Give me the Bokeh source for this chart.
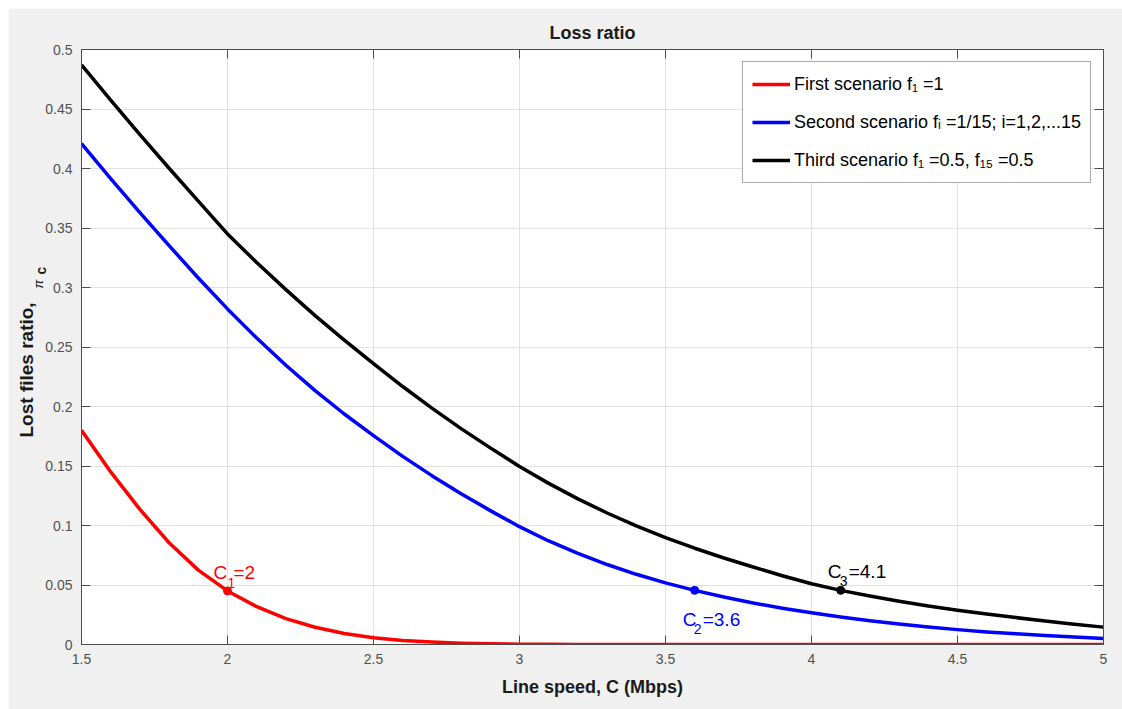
import numpy as np
from bokeh.plotting import figure
from bokeh.models import (Range1d, FixedTicker, LinearAxis, Legend, LegendItem,
                          Title, ColumnDataSource)
from bokeh.embed import file_html
from bokeh.resources import INLINE
from bokeh.core.properties import value

# ---------------- data ----------------
C = [1.5, 1.6, 1.7, 1.8, 1.9, 2.0, 2.1, 2.2, 2.3, 2.4, 2.5, 2.6, 2.7, 2.8, 2.9,
     3.0, 3.1, 3.2, 3.3, 3.4, 3.5, 3.6, 3.7, 3.8, 3.9, 4.0, 4.1, 4.2, 4.3, 4.4,
     4.5, 4.6, 4.7, 4.8, 4.9, 5.0]
first = [0.180, 0.145, 0.1135, 0.0855, 0.0625, 0.0450, 0.0318, 0.0218, 0.0145,
         0.0093, 0.0057, 0.0034, 0.0020, 0.0011, 0.0006, 0.0003, 0.00015,
         0.00007, 0.0, 0.0, 0.0, 0.0, 0.0, 0.0, 0.0, 0.0, 0.0, 0.0, 0.0, 0.0,
         0.0, 0.0, 0.0, 0.0, 0.0, 0.0]
second = [0.421, 0.3915, 0.363, 0.3352, 0.308, 0.282, 0.2575, 0.2347, 0.2134,
          0.1937, 0.1756, 0.1581, 0.1419, 0.1267, 0.1125, 0.0990, 0.0870,
          0.0765, 0.0672, 0.0590, 0.0518, 0.0455, 0.0399, 0.0349, 0.0305,
          0.0266, 0.0231, 0.0200, 0.0172, 0.0147, 0.0125, 0.0106, 0.0090,
          0.0076, 0.0063, 0.0051]
third = [0.487, 0.4575, 0.4285, 0.4002, 0.3726, 0.345, 0.321, 0.2982, 0.2764,
         0.2558, 0.236, 0.2168, 0.1986, 0.1814, 0.1652, 0.1496, 0.1354, 0.1224,
         0.1105, 0.0997, 0.0899, 0.0809, 0.0727, 0.0651, 0.0578, 0.0510,
         0.0455, 0.0407, 0.0364, 0.0324, 0.0288, 0.0256, 0.0226, 0.0198,
         0.0171, 0.0146]

series_labels = ["First scenario f\u2081 =1",
                 "Second scenario f\u1d62 =1/15; i=1,2,...15",
                 "Third scenario f\u2081 =0.5, f\u2081\u2085 =0.5"]
series_colors = ["#ff0000", "#0000ff", "#000000"]

crit_x = [2.0, 3.6, 4.1]
crit_y = [0.045, 0.0455, 0.0455]
crit_main = ["C", "C", "C"]
crit_sub = ["1", "2", "3"]
crit_val = ["=2", "=3.6", "=4.1"]

x_ticks = [1.5, 2, 2.5, 3, 3.5, 4, 4.5, 5]
x_tick_labels = ["1.5", "2", "2.5", "3", "3.5", "4", "4.5", "5"]
y_ticks = [0, 0.05, 0.1, 0.15, 0.2, 0.25, 0.3, 0.35, 0.4, 0.45, 0.5]
y_tick_labels = ["0", "0.05", "0.1", "0.15", "0.2", "0.25", "0.3", "0.35",
                 "0.4", "0.45", "0.5"]

FONT = "Liberation Sans"
AX = "#4d4d4d"

W, H = 1114, 701
BL, BR, BT, BB = 73, 19, 41, 65

# ---------------- figure ----------------
p = figure(width=W, height=H, output_backend="svg", toolbar_location=None,
           x_range=Range1d(1.5, 5.0), y_range=Range1d(0.0, 0.5),
           min_border_left=BL, min_border_right=BR, min_border_top=BT,
           min_border_bottom=BB, background_fill_color="white",
           border_fill_color="#f0f0f0", title="Loss ratio")
p.margin = (8, 0, 0, 8)
p.outline_line_color = AX
p.outline_line_width = 1

p.title.text_font = FONT
p.title.text_font_size = "18px"
p.title.text_font_style = "bold"
p.title.text_color = "#1a1a1a"
p.title.align = "center"
p.title.standoff = 3
p.title.padding = 5

xax = p.xaxis[0]
yax = p.yaxis[0]

def style_axis(ax, ticks, labels, show_labels=True):
    ax.ticker = FixedTicker(ticks=ticks)
    ax.major_label_overrides = dict(zip(ticks, labels))
    ax.major_tick_in = 9
    ax.major_tick_out = 0
    ax.minor_tick_in = 0
    ax.minor_tick_out = 0
    ax.axis_line_color = AX
    ax.major_tick_line_color = AX
    ax.major_label_text_font = FONT
    if show_labels:
        ax.major_label_text_color = "#505050"
        ax.major_label_text_font_size = "14px"
        ax.major_label_standoff = 9
    else:
        ax.major_label_text_color = None
        ax.major_label_text_font_size = "1px"
        ax.major_label_standoff = 0

style_axis(xax, x_ticks, x_tick_labels)
style_axis(yax, y_ticks, y_tick_labels)

top_ax = LinearAxis()
style_axis(top_ax, x_ticks, x_tick_labels, show_labels=False)
p.add_layout(top_ax, "above")
right_ax = LinearAxis()
style_axis(right_ax, y_ticks, y_tick_labels, show_labels=False)
p.add_layout(right_ax, "right")

xax.axis_label = "Line speed, C (Mbps)"
xax.axis_label_text_font = FONT
xax.axis_label_text_font_size = "18px"
xax.axis_label_text_font_style = "bold"
xax.axis_label_text_color = "#1a1a1a"
xax.axis_label_standoff = 10

# y label "Lost files ratio, pi_c" built from three side titles
t_c = Title(text="c", align="left", offset=370, standoff=-13.5,
            text_font=FONT, text_font_size="14px", text_font_style="bold",
            text_color="#1a1a1a")
p.add_layout(t_c, "left")
t_pi = Title(text="\u03c0", align="left", offset=356, standoff=-16.4,
             text_font=FONT, text_font_size="13px", text_font_style="italic",
             text_color="#1a1a1a")
p.add_layout(t_pi, "left")
t_main = Title(text="Lost files ratio,", align="left", offset=207, standoff=0,
               text_font=FONT, text_font_size="19px", text_font_style="bold",
               text_color="#1a1a1a")
p.add_layout(t_main, "left")

p.xgrid.ticker = FixedTicker(ticks=x_ticks)
p.ygrid.ticker = FixedTicker(ticks=y_ticks)
p.xgrid.grid_line_color = "#e2e2e2"
p.ygrid.grid_line_color = "#e2e2e2"

# ---------------- curves ----------------
renderers = []
for ys, col in zip([first, second, third], series_colors):
    r = p.line(C, ys, line_color=col, line_width=3.5, line_join="round")
    renderers.append(r)

legend = Legend(items=[LegendItem(label=l, renderers=[r])
                       for l, r in zip(series_labels, renderers)],
                location="top_right", margin=12, padding=9, spacing=12,
                glyph_width=38, glyph_height=26, label_height=26,
                label_standoff=4, label_text_font=FONT,
                label_text_font_size="18px", label_text_color="#000000",
                border_line_color="#555555", border_line_width=1,
                background_fill_color="white", background_fill_alpha=1.0)
p.add_layout(legend)

# ---------------- critical points ----------------
src = ColumnDataSource(dict(
    x=crit_x, y=crit_y, main=crit_main, sub=crit_sub, val=crit_val,
    color=series_colors,
    mx=[-14, -12, -13], my=[-18.5, 29, -19],
    sx=[0, -1, -1], sy=[-7.5, 39, -9],
    vx=[6, 8, 8], vy=[-18.5, 29, -19],
))
p.scatter("x", "y", source=src, size=8, marker="circle", color="color")
common = dict(source=src, text_font=value(FONT), text_align="left",
              text_baseline="alphabetic", text_color="color")
p.text(x="x", y="y", text="main", x_offset="mx", y_offset="my",
       text_font_size=value("19px"), **common)
p.text(x="x", y="y", text="sub", x_offset="sx", y_offset="sy",
       text_font_size=value("14px"), **common)
p.text(x="x", y="y", text="val", x_offset="vx", y_offset="vy",
       text_font_size=value("19px"), **common)

open("out.html", "w").write(file_html(p, INLINE))
